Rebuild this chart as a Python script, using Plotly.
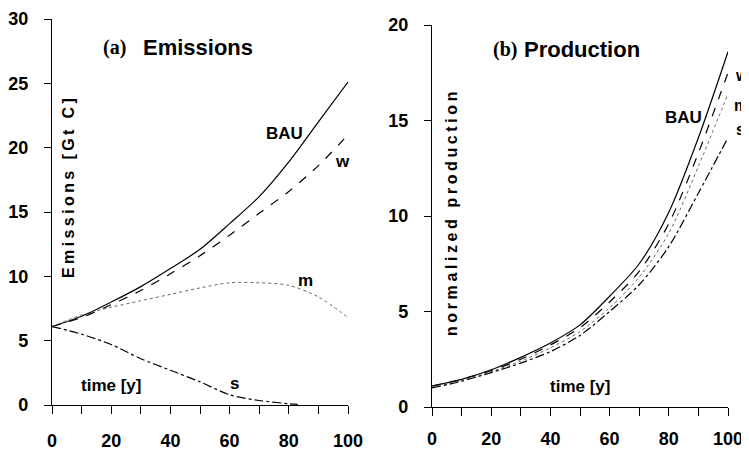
import plotly.graph_objects as go

# ---- data ----
years = [0, 10, 20, 30, 40, 50, 60, 70, 80, 90, 100]

em_bau = [6.1, 6.9, 8.0, 9.2, 10.6, 12.1, 14.1, 16.2, 18.9, 22.0, 25.1]
em_w = [6.1, 6.8, 7.8, 8.9, 10.2, 11.6, 13.2, 14.9, 16.6, 18.6, 21.0]
em_m = [6.1, 7.0, 7.6, 8.1, 8.6, 9.1, 9.5, 9.5, 9.3, 8.4, 6.8]
s_years = [0, 10, 20, 30, 40, 50, 60, 70, 80, 83]
em_s = [6.1, 5.5, 4.7, 3.6, 2.7, 1.8, 0.8, 0.35, 0.1, 0.05]

pr_bau = [1.1, 1.45, 1.95, 2.6, 3.35, 4.3, 5.8, 7.5, 10.2, 14.1, 18.6]
pr_w = [1.1, 1.45, 1.9, 2.5, 3.25, 4.15, 5.5, 7.1, 9.6, 13.3, 17.5]
pr_m = [1.05, 1.4, 1.85, 2.4, 3.1, 3.95, 5.2, 6.8, 9.1, 12.6, 16.4]
pr_s = [1.0, 1.35, 1.8, 2.3, 2.9, 3.75, 5.0, 6.4, 8.4, 11.2, 14.1]

em_ticks = [0, 5, 10, 15, 20, 25, 30]
pr_ticks = [0, 5, 10, 15, 20]
x_ticks = [0, 20, 40, 60, 80, 100]

TICKFONT = "Liberation Sans Narrow, Arial Narrow, Liberation Sans, Arial"
SANS = "Liberation Sans, Arial, sans-serif"
SERIF = "Liberation Serif, Times New Roman, serif"

fig = go.Figure()

def add(x, y, dash, color, xa, ya, width=1.2):
    fig.add_trace(go.Scatter(x=x, y=y, mode="lines", xaxis=xa, yaxis=ya,
                             line=dict(color=color, width=width, dash=dash,
                                       shape="spline", smoothing=0.8),
                             showlegend=False, hoverinfo="skip"))

add(years, em_bau, "solid", "black", "x", "y")
add(years, em_w, "dash", "black", "x", "y")
add(years, em_m, "dot", "#666", "x", "y", 1.0)
add(s_years, em_s, "dashdot", "black", "x", "y")

add(years, pr_bau, "solid", "black", "x2", "y2")
add(years, pr_w, "dash", "black", "x2", "y2")
add(years, pr_m, "dot", "#666", "x2", "y2", 1.0)
add(years, pr_s, "dashdot", "black", "x2", "y2")

# page body has an 8px margin, so the figure is sized/positioned to compensate
OFF = 8
W, H = 749 - OFF, 453 - OFF

def hx(a, b):
    return [(a - OFF) / W, (b - OFF) / W]

def vy(top, bottom):
    return [1 - (bottom - OFF) / H, 1 - (top - OFF) / H]

def xaxis_style(standoff):
    return dict(range=[0, 100], tickvals=x_ticks, ticks="outside", ticklen=8,
                tickwidth=1.3, tickcolor="black", showline=True, linecolor="black",
                linewidth=1.3, showgrid=False, zeroline=False, automargin=False,
                tickfont=dict(family=TICKFONT, size=18, color="black", weight="bold"),
                ticklabelstandoff=standoff,
                minor=dict(dtick=10, ticks="outside", ticklen=8, tickwidth=1.3,
                           tickcolor="black", showgrid=False))

ycommon = dict(ticks="outside", ticklen=7, tickwidth=1.3, tickcolor="black",
               showline=True, linecolor="black", linewidth=1.3, showgrid=False,
               zeroline=False, ticklabelstandoff=12, automargin=False,
               tickfont=dict(family=TICKFONT, size=18, color="black", weight="bold"))

fig.update_layout(
    width=W, height=H, margin=dict(l=0, r=0, t=0, b=0, autoexpand=False),
    paper_bgcolor="white", plot_bgcolor="white",
    xaxis=dict(domain=hx(52, 348), anchor="y", **xaxis_style(11)),
    yaxis=dict(domain=vy(19, 405), range=[0, 30], tickvals=em_ticks,
               anchor="x", **ycommon),
    xaxis2=dict(domain=hx(432, 728), anchor="y2", **xaxis_style(7)),
    yaxis2=dict(domain=vy(25, 407), range=[0, 20], tickvals=pr_ticks,
                anchor="x2", **ycommon),
)

def lab(text, x, y, xref="paper", yref="paper", size=17, family=SANS,
        xanchor="center", angle=0):
    fig.add_annotation(text=text, x=x, y=y, xref=xref, yref=yref, showarrow=False,
                       xanchor=xanchor, yanchor="middle", textangle=angle,
                       borderpad=0,
                       font=dict(family=family, size=size, color="black", weight="bold"))

def px(xp, yp):
    return (xp - OFF) / W, 1 - (yp - OFF) / H

# panel titles
lab("(a)", *px(102, 47), size=20, family=SERIF, xanchor="left")
lab("Emissions", *px(142, 47), size=22, xanchor="left")
lab("(b)", *px(492, 50), size=20, family=SERIF, xanchor="left")
lab("Production", *px(523, 50), size=22, xanchor="left")

# axis titles inside plots
lab('<span style="letter-spacing:3.4px">Emissions [Gt C]</span>', *px(68, 187),
    size=16, angle=-90)
lab('<span style="letter-spacing:3.6px">normalized production</span>', *px(452, 212),
    size=16, angle=-90)
lab("time [y]", 20, 1.5, "x", "y", size=17)
lab("time [y]", 50, 1.05, "x2", "y2", size=17)

# curve labels
lab("BAU", 78.7, 21.1, "x", "y")
lab("w", 98.3, 18.9, "x", "y")
lab("m", 85.5, 9.7, "x", "y")
lab("s", 61.8, 1.7, "x", "y")
lab("BAU", *px(683, 117))
lab("w", *px(734, 75), xanchor="left", size=16)
lab("m", *px(733, 105), xanchor="left", size=16)
lab("s", *px(735, 130), xanchor="left", size=16)

fig.write_html("out.html")
